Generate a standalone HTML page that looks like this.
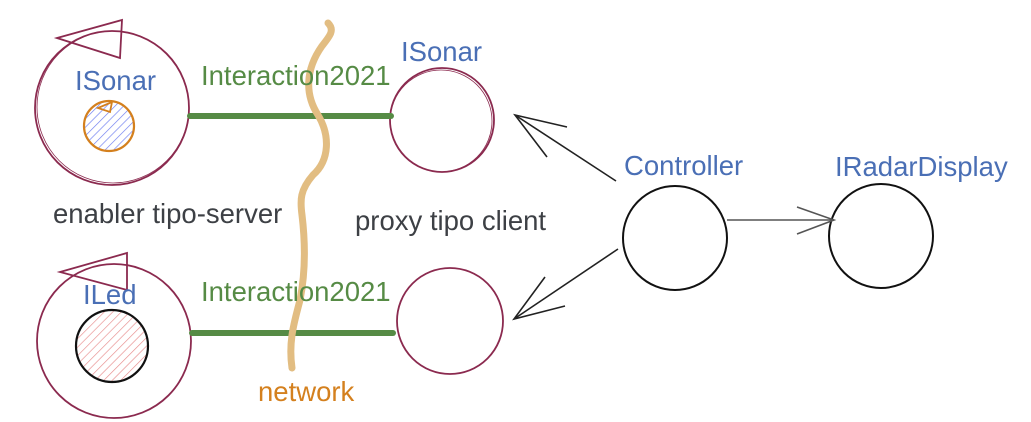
<!DOCTYPE html>
<html><head><meta charset="utf-8"><style>
html,body{margin:0;padding:0;background:#fff;}
svg{display:block;}
text{font-family:"Liberation Sans",sans-serif;}
</style></head><body>
<svg width="1031" height="422" viewBox="0 0 1031 422" xmlns="http://www.w3.org/2000/svg">
<defs>
<pattern id="hb" width="6" height="6" patternUnits="userSpaceOnUse" patternTransform="rotate(45)">
<line x1="0" y1="0" x2="0" y2="6" stroke="#6f7ff0" stroke-width="1.3"/></pattern>
<pattern id="hr" width="6" height="6" patternUnits="userSpaceOnUse" patternTransform="rotate(45)">
<line x1="0" y1="0" x2="0" y2="6" stroke="#e88e8e" stroke-width="1.3"/></pattern>
</defs>
<g fill="none" stroke="#8b2a4f" stroke-width="1.8">
<circle cx="112" cy="108" r="77"/>
<circle cx="113" cy="107" r="76" stroke-width="0.8"/>
<polygon points="57,38 122,20 120,58"/>
<circle cx="442" cy="120" r="52"/>
<circle cx="441" cy="121" r="51" stroke-width="0.8"/>
<circle cx="114" cy="341" r="77"/>
<polygon points="60,272 127,253 127,290"/>
<circle cx="450" cy="321" r="53"/>
</g>
<circle cx="109" cy="126" r="25" fill="url(#hb)" stroke="#d4801e" stroke-width="2.2"/>
<polygon points="98,108 112,102 110,112" fill="none" stroke="#d4801e" stroke-width="1.8"/>
<circle cx="112" cy="346" r="36" fill="url(#hr)" stroke="#111" stroke-width="2.2"/>
<line x1="190" y1="116" x2="391" y2="116" stroke="#568b45" stroke-width="6" stroke-linecap="round"/>
<line x1="192" y1="333" x2="393" y2="333" stroke="#568b45" stroke-width="6" stroke-linecap="round"/>
<path d="M328,23 C335,30 330,36 322,46 C305,70 305,95 318,115 C330,135 330,160 313,175 C300,190 300,200 302,215 C305,240 306,270 300,300 C295,320 288,340 292,368" fill="none" stroke="#e2bd82" stroke-width="7" stroke-linecap="round"/>
<g fill="none" stroke="#111" stroke-width="2">
<circle cx="675" cy="238" r="52"/>
<circle cx="881" cy="236" r="52"/>
</g>
<g fill="none" stroke="#222" stroke-width="1.6">
<line x1="727" y1="220" x2="834" y2="220" stroke="#555"/>
<polyline points="797,207 834,220 797,234" stroke="#555"/>
<line x1="616" y1="181" x2="515" y2="115"/>
<polyline points="567,127 515,115 547,157"/>
<line x1="618" y1="249" x2="514" y2="319"/>
<polyline points="545,277 514,319 565,306"/>
</g>
<g font-size="27.5">
<text x="75" y="90" fill="#4a6fb5">ISonar</text>
<text x="401" y="61" fill="#4a6fb5">ISonar</text>
<text x="83" y="304" fill="#4a6fb5">ILed</text>
<text x="624" y="175" fill="#4a6fb5">Controller</text>
<text x="835" y="176" fill="#4a6fb5">IRadarDisplay</text>
<text x="201" y="85" fill="#568b45">Interaction2021</text>
<text x="201" y="301" fill="#568b45">Interaction2021</text>
</g>
<g font-size="27.5" fill="#3d4045">
<text x="53" y="223">enabler tipo-server</text>
<text x="355" y="230">proxy tipo client</text>
</g>
<text x="258" y="401" font-size="27.5" fill="#d4801e">network</text>
</svg>
</body></html>
